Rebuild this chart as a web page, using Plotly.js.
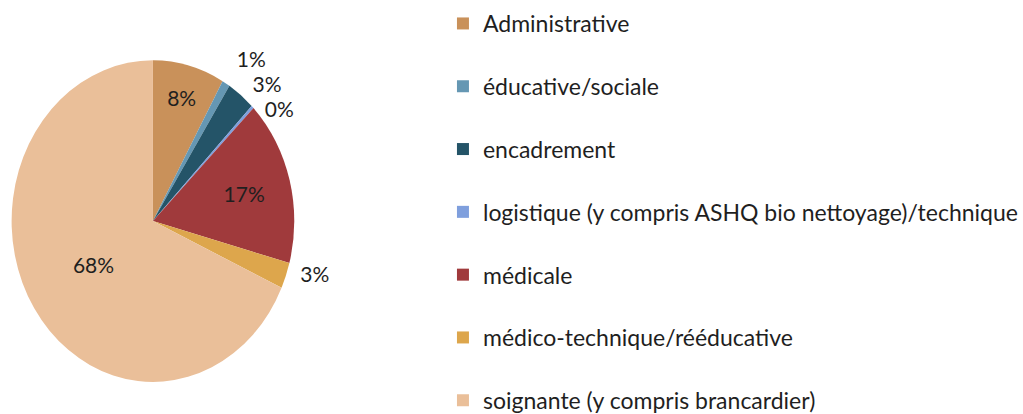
<!DOCTYPE html>
<html><head><meta charset="utf-8">
<script src="https://cdn.plot.ly/plotly-3.0.1.min.js"></script>
<style>html,body{margin:0;padding:0;background:#fff}#chart{width:1023px;height:414px}
.textline{display:none}</style>
</head><body><div id="chart"></div>
<script>
const categories = ["Administrative","éducative/sociale","encadrement","logistique (y compris ASHQ bio nettoyage)/technique","médicale","médico-technique/rééducative","soignante (y compris brancardier)"];
const values = [8.2, 0.9, 3.2, 0.3, 16.6, 2.6, 68.2];
const colors = ["#C9915A","#6597B3","#245468","#7F9FDD","#A03A3C","#DDA64C","#EABF99"];
const textPositions = ["inside","outside","outside","outside","inside","outside","inside"];

const legendLabels = categories.map((c,i) => i < categories.length-1 ? c + "<br> " : c);

const trace = {
  type: "pie",
  labels: legendLabels,
  values: values,
  sort: false,
  direction: "clockwise",
  rotation: 0,
  marker: {colors: colors, line: {width: 0}},
  texttemplate: "%{percent:.0%}",
  textposition: textPositions,
  textfont: {family: "Lato, 'Open Sans', sans-serif", size: 21, color: "#1f1f1f"},
  insidetextorientation: "horizontal",
  domain: {x: [0.003, 0.296], y: [0.104, 0.828]},
  hoverinfo: "label+percent"
};

const layout = {
  width: 1023, height: 414,
  margin: {l: 0, r: 0, t: 0, b: 0},
  paper_bgcolor: "#fff",
  showlegend: true,
  legend: {
    x: 0.433, y: 1, xanchor: "left", yanchor: "top",
    valign: "top",
    font: {family: "Lato, 'Open Sans', sans-serif", size: 23, color: "#1f1f1f"},
    itemwidth: 30
  }
};

Plotly.newPlot("chart", [trace], layout, {displayModeBar: false, staticPlot: true}).then(gd => {
  // stretch the pie slightly vertically to match the elliptical original
  const fl = gd._fullLayout, sz = fl._size, dom = gd._fullData[0].domain;
  const cx = sz.l + sz.w * (dom.x[0] + dom.x[1]) / 2;
  const cy = sz.t + sz.h * (1 - (dom.y[0] + dom.y[1]) / 2);
  const sx = 0.943, sy = 1.073;
  gd.querySelectorAll(".pielayer path.surface").forEach(p => {
    p.setAttribute("transform", `matrix(${sx},0,0,${sy},${cx*(1-sx)},${cy*(1-sy)})`);
  });
  const rootRect = gd.getBoundingClientRect();
  gd.querySelectorAll(".pielayer g.slice").forEach((g, i) => {
    if (textPositions[i] !== "inside") return;
    const t = g.querySelector("g.slicetext text");
    if (!t) return;
    const r = t.getBoundingClientRect();
    const mx = r.left + r.width / 2 - rootRect.left;
    const my = r.top + r.height / 2 - rootRect.top;
    const dx = (mx - cx) * (sx - 1), dy = (my - cy) * (sy - 1);
    const old = t.getAttribute("transform") || "";
    t.setAttribute("transform", `translate(${dx},${dy}) ` + old);
  });
  const leg = gd.querySelector(".legend");
  if (leg) {
    const old = leg.getAttribute("transform") || "";
    leg.setAttribute("transform", old + " translate(0,2)");
  }
});
</script>
</body></html>
